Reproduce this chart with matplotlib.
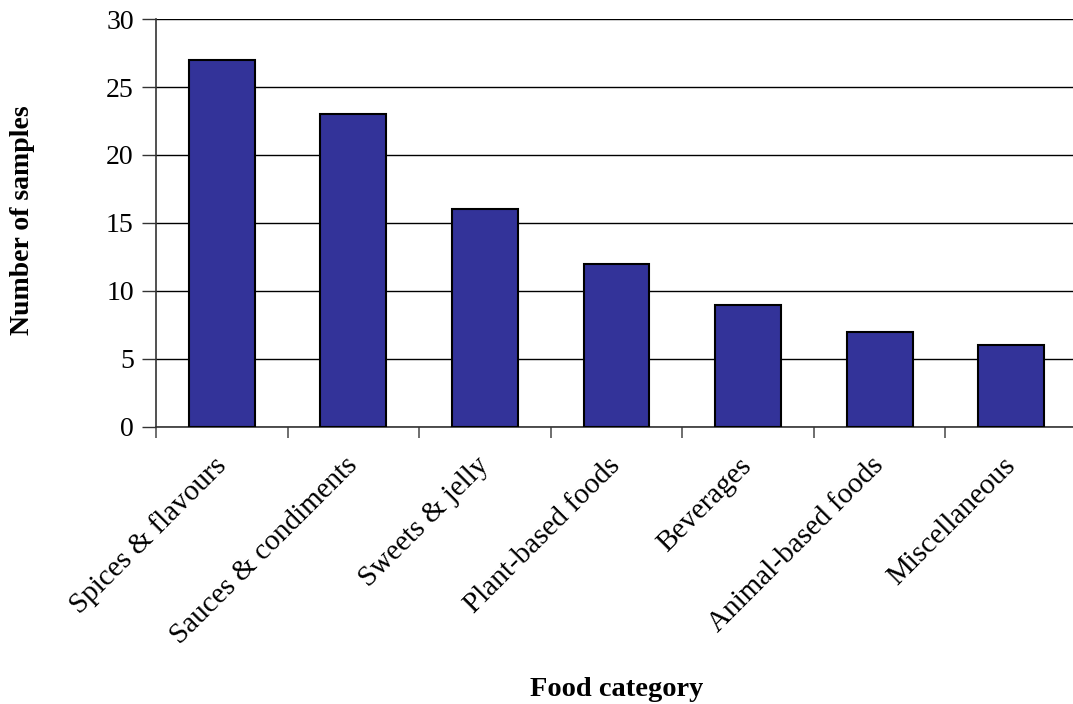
import matplotlib
matplotlib.use("Agg")
import matplotlib.pyplot as plt
import numpy as np

categories = ["Spices & flavours", "Sauces & condiments", "Sweets & jelly",
              "Plant-based foods", "Beverages", "Animal-based foods", "Miscellaneous"]
samples = [27, 23, 16, 12, 9, 7, 6]
y_ticks = [0, 5, 10, 15, 20, 25, 30]

plt.rcParams["font.family"] = ["Liberation Serif", "DejaVu Serif"]

fig = plt.figure(figsize=(10.73, 7.04), dpi=100)
ax = fig.add_axes([0.1454, 0.3935, 0.8583, 0.5795])

x = np.arange(len(categories))
ax.bar(x, samples, width=0.5, color="#333399", edgecolor="black", linewidth=1.5, zorder=3)

ax.set_xlim(-0.5, len(categories) - 0.5)
ax.set_ylim(0, 30)
ax.set_yticks(y_ticks)
ax.set_yticklabels([str(v) for v in y_ticks], fontsize=20)
ax.yaxis.grid(True, color="black", linewidth=1.0, zorder=0)
ax.set_axisbelow(True)

# category boundaries carry the tick marks, labels sit under bar centres
ax.set_xticks(x - 0.5)
ax.set_xticklabels([])
ax.set_xticks(x, minor=True)
ax.set_xticklabels(categories, minor=True, rotation=45, ha="right",
                   va="center", rotation_mode="anchor", fontsize=21)
ax.tick_params(axis="x", which="minor", length=0, pad=25)
ax.tick_params(axis="x", which="major", length=8, width=1.2, color="#555555", direction="out")
ax.tick_params(axis="y", length=10, width=1.0, color="#333333", direction="out", pad=6)

for side in ["top", "right"]:
    ax.spines[side].set_visible(False)
ax.spines["left"].set_color("#333333")
ax.spines["bottom"].set_color("#333333")
ax.spines["left"].set_linewidth(1.2)
ax.spines["bottom"].set_linewidth(1.2)

fig.text(0.575, 0.02, "Food category", ha="center", va="center",
         fontsize=20.5, fontweight="bold")
fig.text(0.021, 0.6875, "Number of samples", ha="center", va="center",
         rotation=90, fontsize=20, fontweight="bold")

fig.savefig("out.png", dpi=100)
